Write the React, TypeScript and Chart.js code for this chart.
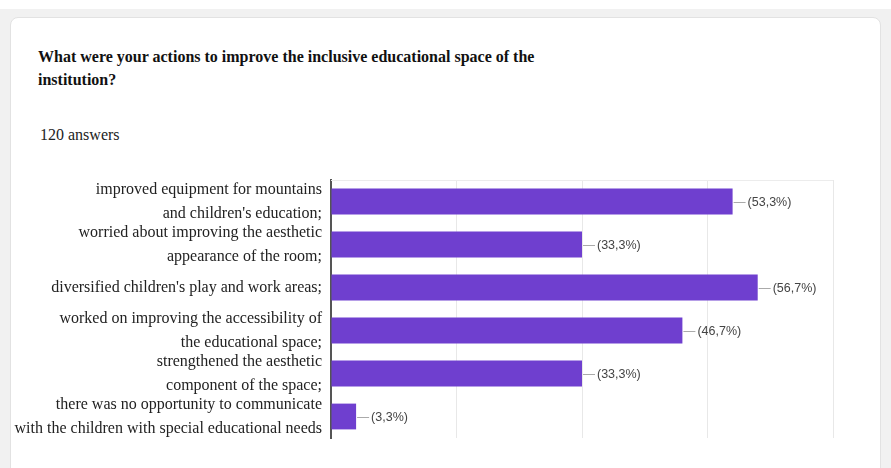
import React, { useEffect, useRef } from "react";
import { Chart, registerables } from "chart.js";

Chart.register(...registerables);

const TITLE_LINES = [
  "What were your actions to improve the inclusive educational space of the",
  "institution?",
];
const TOTAL_ANSWERS = 120;
const CATEGORIES: string[][] = [
  ["improved equipment for mountains", "and children's education;"],
  ["worried about improving the aesthetic", "appearance of the room;"],
  ["diversified children's play and work areas;"],
  ["worked on improving the accessibility of", "the educational space;"],
  ["strengthened the aesthetic", "component of the space;"],
  ["there was no opportunity to communicate", "with the children with special educational needs"],
];
const COUNTS = [64, 40, 68, 56, 40, 4];
const X_MAX = 80;
const X_STEP = 20;

const BAR_COLOR = "#6f3fcf";

const labelPlugin = {
  id: "valueLabels",
  afterDatasetsDraw(chart: any) {
    const ctx = chart.ctx;
    const area = chart.chartArea;
    ctx.save();
    ctx.strokeStyle = "#ececec";
    ctx.lineWidth = 1;
    ctx.beginPath();
    ctx.moveTo(area.left, area.top + 0.5);
    ctx.lineTo(area.right, area.top + 0.5);
    ctx.stroke();
    const meta = chart.getDatasetMeta(0);
    meta.data.forEach((el: any, i: number) => {
      const pct = ((COUNTS[i] / TOTAL_ANSWERS) * 100).toFixed(1).replace(".", ",");
      const x = el.x;
      const y = Math.round(el.y) + 0.5;
      ctx.strokeStyle = "#aaaaaa";
      ctx.lineWidth = 1;
      ctx.beginPath();
      ctx.moveTo(x + 1, y);
      ctx.lineTo(x + 13, y);
      ctx.stroke();
      ctx.fillStyle = "#444444";
      ctx.font = "12.5px 'Liberation Sans', Arial, sans-serif";
      ctx.textAlign = "left";
      ctx.textBaseline = "middle";
      ctx.fillText(`(${pct}%)`, x + 15, y);
    });
    ctx.restore();
  },
};

export default function App() {
  const canvasRef = useRef<HTMLCanvasElement | null>(null);

  useEffect(() => {
    if (!canvasRef.current) return;
    const chart = new Chart(canvasRef.current, {
      type: "bar",
      data: {
        labels: CATEGORIES,
        datasets: [
          {
            data: COUNTS,
            backgroundColor: BAR_COLOR,
            borderWidth: 0,
            barPercentage: 0.6,
            categoryPercentage: 1,
          },
        ],
      },
      options: {
        indexAxis: "y",
        animation: false,
        responsive: false,
        maintainAspectRatio: false,
        layout: { padding: { top: 10, right: 47, bottom: 10, left: 0 } },
        plugins: {
          legend: { display: false },
          tooltip: { enabled: false },
        },
        scales: {
          x: {
            min: 0,
            max: X_MAX,
            ticks: { display: false, stepSize: X_STEP },
            grid: { color: "#e8e8e8", drawTicks: false, lineWidth: 1 },
            border: { display: false },
          },
          y: {
            ticks: {
              color: "#222222",
              padding: 9,
              autoSkip: false,
              font: { family: "'Liberation Serif', 'Times New Roman', serif", size: 16, lineHeight: 1.5 },
            },
            grid: { display: false, drawTicks: false },
            border: { display: true, color: "#555555", width: 2 },
            afterFit: (scale: any) => {
              scale.width = 321;
              scale.paddingTop = 0;
              scale.paddingBottom = 0;
            },
          },
        },
      },
      plugins: [labelPlugin],
    });
    return () => chart.destroy();
  }, []);

  return (
    <div style={{ position: "fixed", left: 0, top: 0, width: 891, height: 468, background: "#ffffff", overflow: "hidden" }}>
      <div style={{ position: "absolute", left: 0, top: 9, width: 891, height: 459, background: "#f1f1f1" }} />
      <div
        style={{
          position: "absolute",
          left: 10,
          top: 17,
          width: 869,
          height: 470,
          background: "#ffffff",
          border: "1px solid #e2e2e2",
          borderRadius: 8,
        }}
      />
      <div
        style={{
          position: "absolute",
          left: 38,
          top: 45,
          fontFamily: "'Liberation Serif', 'Times New Roman', serif",
          fontWeight: "bold",
          fontSize: 16,
          lineHeight: "23px",
          color: "#111",
          whiteSpace: "nowrap",
        }}
      >
        {TITLE_LINES.map((t, i) => (
          <div key={i}>{t}</div>
        ))}
      </div>
      <div
        style={{
          position: "absolute",
          left: 40,
          top: 124,
          fontFamily: "'Liberation Serif', 'Times New Roman', serif",
          fontSize: 16,
          lineHeight: "22px",
          color: "#222",
          whiteSpace: "nowrap",
        }}
      >
        {TOTAL_ANSWERS} answers
      </div>
      <canvas
        ref={canvasRef}
        width={870}
        height={278}
        style={{ position: "absolute", left: 10, top: 170, width: 870, height: 278 }}
      />
    </div>
  );
}
